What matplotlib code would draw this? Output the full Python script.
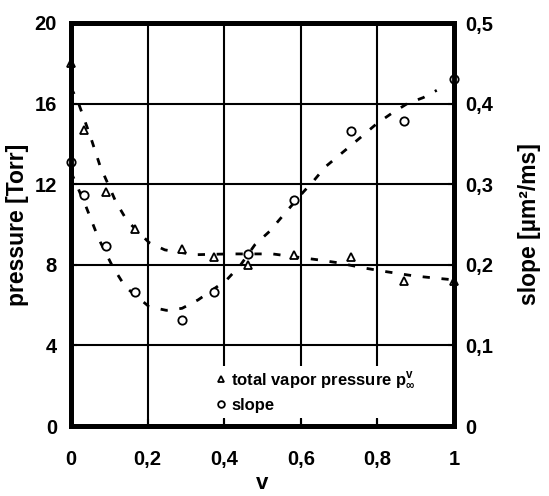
import matplotlib
matplotlib.use("Agg")
import matplotlib.pyplot as plt

plt.rcParams['font.family'] = ['Liberation Sans', 'DejaVu Sans']
plt.rcParams['font.weight'] = 'bold'
plt.rcParams['mathtext.fontset'] = 'custom'
plt.rcParams['mathtext.rm'] = 'Liberation Sans:bold'
plt.rcParams['mathtext.it'] = 'Liberation Sans:bold'
plt.rcParams['mathtext.bf'] = 'Liberation Sans:bold'
plt.rcParams['mathtext.default'] = 'rm'

# measured points
v = [0.0, 0.033, 0.092, 0.168, 0.29, 0.373, 0.462, 0.582, 0.73, 0.87, 1.0]
pressure = [18.0, 14.7, 11.6, 9.8, 8.8, 8.4, 8.0, 8.5, 8.4, 7.2, 7.2]
slope = [0.327, 0.287, 0.223, 0.166, 0.132, 0.166, 0.214, 0.280, 0.366, 0.379, 0.430]

# dashed trend curves
p_fit_v = [0.0, 0.02, 0.051, 0.076, 0.117, 0.146, 0.204, 0.245, 0.323, 0.414,
           0.526, 0.648, 0.694, 0.769, 0.819, 0.895, 0.936, 1.0]
p_fit = [16.8, 16.0, 14.35, 12.9, 11.13, 10.2, 9.1, 8.74, 8.5, 8.54,
         8.54, 8.24, 8.11, 7.83, 7.67, 7.45, 7.37, 7.25]
s_fit_v = [0.0, 0.039, 0.072, 0.109, 0.142, 0.204, 0.249, 0.29, 0.332, 0.406, 0.443,
           0.48, 0.518, 0.547, 0.606, 0.635, 0.664, 0.698, 0.761, 0.798,
           0.836, 0.878, 0.92, 0.955]
s_fit = [0.315, 0.2725, 0.2325, 0.1975, 0.1725, 0.148, 0.1435, 0.146, 0.1565, 0.181, 0.200,
         0.2248, 0.2413, 0.2575, 0.290, 0.305, 0.3215, 0.335, 0.360, 0.375,
         0.3875, 0.400, 0.4075, 0.4165]

x_ticks = [0, 0.2, 0.4, 0.6, 0.8, 1.0]
x_labels = ['0', '0,2', '0,4', '0,6', '0,8', '1']
y_ticks = [0, 4, 8, 12, 16, 20]
y_labels = ['0', '4', '8', '12', '16', '20']
y2_ticks = [0, 0.1, 0.2, 0.3, 0.4, 0.5]
y2_labels = ['0', '0,1', '0,2', '0,3', '0,4', '0,5']

fig = plt.figure(figsize=(5.49, 4.96), dpi=100)
ax = fig.add_axes([71/549, 1-426/496, (454-71)/549, (426-23)/496])
ax2 = ax.twinx()

ax.set_xlim(0, 1)
ax.set_ylim(0, 20)
ax2.set_ylim(0, 0.5)

# grid
for gx in x_ticks[1:-1]:
    ax.axvline(gx, color='black', lw=1.5, zorder=1)
for gy in y_ticks[1:-1]:
    ax.axhline(gy, color='black', lw=1.5, zorder=1)

ls = (0, (2.6, 4.2))
ax.plot(p_fit_v, p_fit, color='black', lw=2.0, linestyle=ls, zorder=3)
ax2.plot(s_fit_v, s_fit, color='black', lw=2.0, linestyle=ls, zorder=3)

h1, = ax.plot(v, pressure, linestyle='none', marker='^', markersize=6,
              markerfacecolor='white', markeredgecolor='black', markeredgewidth=1.3,
              zorder=4, clip_on=False)
h2, = ax2.plot(v, slope, linestyle='none', marker='o', markersize=6,
               markerfacecolor='white', markeredgecolor='black', markeredgewidth=1.3,
               zorder=4, clip_on=False)

ax.set_xticks(x_ticks)
ax.set_xticklabels(x_labels)
ax.set_yticks(y_ticks)
ax.set_yticklabels(y_labels)
ax2.set_yticks(y2_ticks)
ax2.set_yticklabels(y2_labels)

ax.tick_params(axis='x', direction='in', length=5, width=1.5, pad=17, labelsize=14.5)
ax.tick_params(axis='y', direction='in', length=4, width=1.5, pad=10, labelsize=14.5)
ax2.tick_params(axis='y', direction='in', length=4, width=1.5, pad=8, labelsize=14.5)

for a in (ax, ax2):
    for s in a.spines.values():
        s.set_linewidth(3.5)
        s.set_zorder(5)

ax.set_xlabel('v', fontsize=16, fontweight='bold', labelpad=3)
ax.set_ylabel('pressure [Torr]', fontsize=16.5, fontweight='bold', labelpad=4)
ax2.set_ylabel('slope [µm²/ms]', fontsize=16.5, fontweight='bold', labelpad=18)

leg = ax2.legend([h1, h2], ['total vapor pressure p$^{v}_{\\infty}$', 'slope'],
                 loc='lower left', bbox_to_anchor=(0.345, 0.0),
                 frameon=True, framealpha=1, facecolor='white', edgecolor='none',
                 handlelength=0.6, handletextpad=0.3,
                 borderpad=0.3, labelspacing=0.4, markerscale=0.8,
                 prop={'weight': 'bold', 'size': 12})
leg.set_zorder(6)
ax2.set_zorder(2)
ax.set_zorder(1)
ax2.patch.set_visible(False)

fig.savefig('out.png', dpi=100)
